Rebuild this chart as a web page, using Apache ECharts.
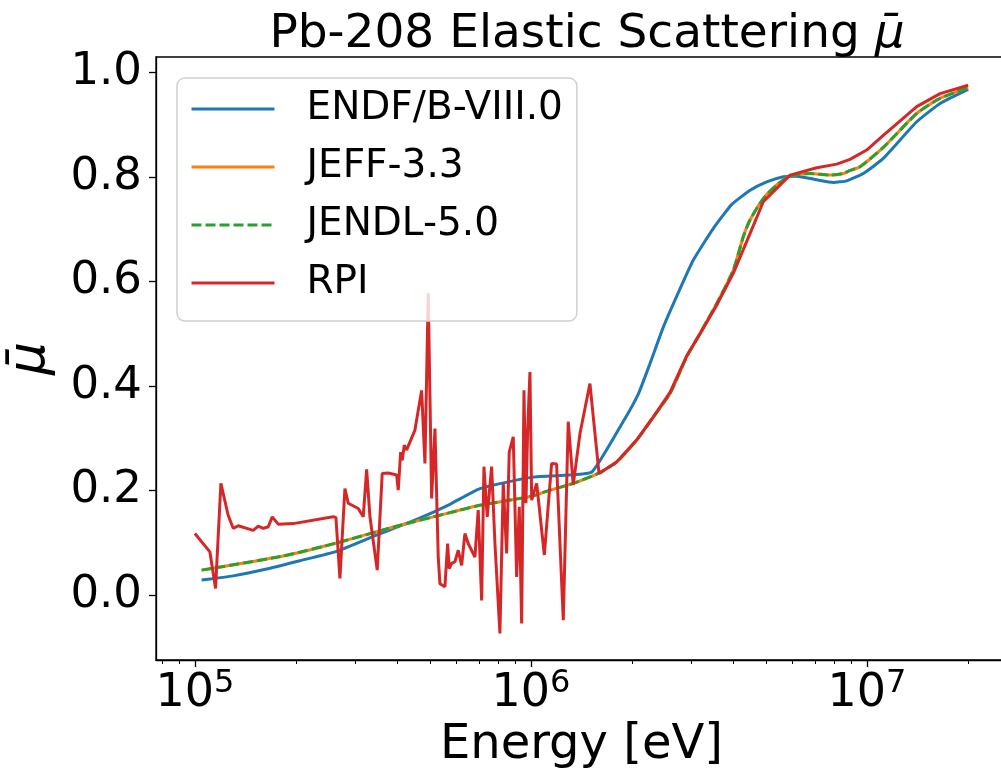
<!DOCTYPE html>
<html>
<head>
<meta charset="utf-8">
<script src="https://cdn.jsdelivr.net/npm/echarts@6/dist/echarts.min.js"></script>
<style>
  html, body { margin: 0; padding: 0; background: #fff; }
  #chart { width: 1001px; height: 770px; }
</style>
</head>
<body>
<div id="chart"></div>
<script>
// ENDF/B-VIII.0
const endfE = [1.047e5, 1.30e5, 1.634e5, 2.053e5, 2.64e5, 3.47e5, 4.57e5, 5.74e5, 7.05e5, 1.01e6, 1.30e6, 1.52e6,
  1.88e6, 2.09e6, 2.26e6, 2.48e6, 2.71e6, 3.04e6, 3.49e6, 3.96e6, 4.49e6, 5.03e6, 5.64e6, 6.18e6, 7.09e6, 7.94e6,
  8.70e6, 9.75e6, 1.118e7, 1.406e7, 1.65e7, 2.0e7];
const endfMu = [0.029, 0.037, 0.050, 0.066, 0.084, 0.115, 0.145, 0.174, 0.204, 0.226, 0.230, 0.236,
  0.332, 0.386, 0.443, 0.514, 0.571, 0.641, 0.702, 0.748, 0.775, 0.791, 0.801, 0.802, 0.795, 0.790,
  0.793, 0.807, 0.836, 0.906, 0.941, 0.968];

// JEFF-3.3 and JENDL-5.0 lie on top of each other
const jeffE = [1.047e5, 1.83e5, 2.64e5, 3.98e5, 5.74e5, 7.05e5, 1.014e6, 1.139e6, 1.336e6, 1.586e6, 1.799e6,
  2.063e6, 2.312e6, 2.593e6, 2.907e6, 3.184e6, 3.57e6, 4.0e6, 4.284e6, 4.486e6, 4.914e6, 5.386e6, 5.901e6,
  6.767e6, 7.762e6, 8.503e6, 8.9e6, 9.533e6, 1.118e7, 1.406e7, 1.65e7, 2.0e7];
const jeffMu = [0.048, 0.075, 0.100, 0.132, 0.158, 0.172, 0.190, 0.201, 0.214, 0.233, 0.255,
  0.297, 0.341, 0.386, 0.456, 0.501, 0.558, 0.622, 0.686, 0.718, 0.759, 0.785, 0.802,
  0.807, 0.804, 0.807, 0.813, 0.820, 0.857, 0.922, 0.951, 0.971];
const jendlE = jeffE;
const jendlMu = jeffMu;

// RPI
const rpiE = [1.0e5, 1.108e5, 1.152e5, 1.195e5, 1.256e5, 1.30e5, 1.346e5, 1.491e5, 1.543e5, 1.597e5, 1.653e5,
  1.699e5, 1.77e5, 1.962e5, 2.58e5, 2.628e5, 2.701e5, 2.795e5, 2.86e5, 3.062e5, 3.169e5, 3.244e5, 3.318e5,
  3.488e5, 3.609e5, 3.761e5, 3.984e5, 4.028e5, 4.095e5, 4.14e5, 4.197e5, 4.267e5, 4.516e5, 4.728e5, 4.836e5,
  4.947e5, 5.064e5, 5.18e5, 5.298e5, 5.36e5, 5.546e5, 5.65e5, 5.712e5, 5.807e5, 5.94e5, 6.075e5, 6.219e5,
  6.361e5, 6.506e5, 6.812e5, 6.968e5, 7.133e5, 7.246e5, 7.411e5, 7.638e5, 7.814e5, 8.085e5, 8.271e5, 8.466e5,
  8.618e5, 8.858e5, 9.067e5, 9.231e5, 9.383e5, 9.533e5, 9.663e5, 9.777e5, 9.932e5, 1.005e6, 1.04e6, 1.096e6,
  1.152e6, 1.192e6, 1.248e6, 1.291e6, 1.336e6, 1.399e6, 1.498e6, 1.594e6, 1.799e6, 2.063e6, 2.312e6, 2.593e6,
  2.907e6, 3.184e6, 3.57e6, 4.0e6, 4.486e6, 4.914e6, 5.901e6, 7.09e6, 8.13e6, 8.9e6, 9.98e6, 1.118e7, 1.406e7,
  1.65e7, 2.0e7];
const rpiMu = [0.118, 0.083, 0.013, 0.214, 0.153, 0.128, 0.133, 0.124, 0.132, 0.128, 0.131,
  0.150, 0.136, 0.137, 0.150, 0.149, 0.032, 0.204, 0.176, 0.166, 0.150, 0.241, 0.150,
  0.048, 0.233, 0.234, 0.230, 0.201, 0.274, 0.258, 0.287, 0.278, 0.316, 0.392, 0.252,
  0.578, 0.185, 0.319, 0.073, 0.022, 0.016, 0.099, 0.051, 0.061, 0.064, 0.086, 0.057,
  0.118, 0.099, 0.073, 0.163, -0.010, 0.246, 0.150, 0.246, 0.099, -0.073, 0.214, 0.080,
  0.274, 0.303, 0.035, 0.169, -0.054, 0.392, 0.176, 0.316, 0.427, 0.182, 0.214, 0.077,
  0.252, 0.251, -0.048, 0.332, 0.211, 0.309, 0.405, 0.233, 0.255, 0.297, 0.341, 0.388,
  0.458, 0.500, 0.555, 0.616, 0.692, 0.753, 0.804, 0.818, 0.825, 0.834, 0.852, 0.880, 0.935,
  0.960, 0.976];

const xMajorTicks = [1e5, 1e6, 1e7];
const xMinorTicks = [8e4, 9e4, 2e5, 3e5, 4e5, 5e5, 6e5, 7e5, 8e5, 9e5,
  2e6, 3e6, 4e6, 5e6, 6e6, 7e6, 8e6, 9e6, 2e7];
const yTicks = [0, 0.2, 0.4, 0.6, 0.8, 1.0];

const FONT = 'DejaVu Sans';

function pairs(xs, ys) {
  return xs.map((x, i) => [x, ys[i]]);
}

const chart = echarts.init(document.getElementById('chart'));

const gridBox = { left: 156, right: -6, top: 57, bottom: 110, outerBoundsMode: 'none' };
const xMin = 76600, xMax = 26100000;

chart.setOption({
  animation: false,
  backgroundColor: '#fff',
  textStyle: { fontFamily: FONT },
  title: {
    text: '{t|Pb-208 Elastic Scattering }{m|μ\u0304}',
    left: 582,
    textAlign: 'center',
    top: 6,
    textStyle: {
      fontWeight: 'normal',
      rich: {
        t: { fontFamily: FONT, fontSize: 47, fontWeight: 'normal', color: '#000' },
        m: { fontFamily: FONT, fontSize: 47, fontWeight: 'normal', color: '#000', fontStyle: 'italic' }
      }
    }
  },
  legend: {
    orient: 'vertical',
    left: 177,
    top: 78,
    padding: [8, 14, 15, 13],
    itemWidth: 83,
    itemHeight: 14,
    itemGap: 12,
    selectedMode: false,
    backgroundColor: 'rgba(255,255,255,0.8)',
    borderColor: '#d0d0d0',
    borderWidth: 1.5,
    borderRadius: 8,
    itemStyle: { opacity: 0 },
    lineStyle: { width: 3 },
    textStyle: { fontFamily: FONT, fontSize: 39, lineHeight: 46, color: '#000', padding: [0, 0, 0, 27] },
    data: ['ENDF/B-VIII.0', 'JEFF-3.3', 'JENDL-5.0', 'RPI']
  },
  grid: [
    Object.assign({ show: true, borderColor: '#000', borderWidth: 1.3 }, gridBox),
    Object.assign({ show: false }, gridBox)
  ],
  xAxis: [
    {
      type: 'log',
      logBase: 10,
      gridIndex: 0,
      min: xMin,
      max: xMax,
      name: 'Energy [eV]',
      nameLocation: 'middle',
      nameGap: 61,
      nameTextStyle: { fontFamily: FONT, fontSize: 48, color: '#000' },
      axisLine: { show: true, onZero: false, lineStyle: { color: '#000', width: 1.3 } },
      axisTick: { show: true, customValues: xMajorTicks, length: 7, lineStyle: { color: '#000', width: 1.3 } },
      axisLabel: {
        customValues: xMajorTicks,
        margin: 8,
        formatter: v => '{b|10}{s|' + Math.round(Math.log10(v)) + '}',
        rich: {
          b: { fontFamily: FONT, fontSize: 46, color: '#000' },
          s: { fontFamily: FONT, fontSize: 32, color: '#000', padding: [0, 0, 20, 0] }
        }
      },
      splitLine: { show: false }
    },
    {
      type: 'log',
      logBase: 10,
      gridIndex: 1,
      min: xMin,
      max: xMax,
      axisLine: { show: false, onZero: false },
      axisTick: { show: true, customValues: xMinorTicks, length: 4, lineStyle: { color: '#000', width: 1 } },
      axisLabel: { show: false },
      splitLine: { show: false }
    }
  ],
  yAxis: [
    {
      type: 'value',
      gridIndex: 0,
      min: -0.124,
      max: 1.03,
      name: '{m|μ\u0304}',
      nameLocation: 'middle',
      nameRotate: 90,
      nameGap: 100,
      nameTextStyle: { rich: { m: { fontFamily: FONT, fontSize: 52, color: '#000', fontStyle: 'italic' } } },
      axisLine: { show: true, onZero: false, lineStyle: { color: '#000', width: 1.3 } },
      axisTick: { show: true, customValues: yTicks, length: 7, lineStyle: { color: '#000', width: 1.3 } },
      axisLabel: {
        customValues: yTicks,
        margin: 14,
        fontFamily: FONT,
        fontSize: 45,
        color: '#000',
        formatter: v => v.toFixed(1)
      },
      splitLine: { show: false }
    },
    {
      type: 'value',
      gridIndex: 1,
      min: -0.124,
      max: 1.03,
      show: false
    }
  ],
  series: [
    {
      name: 'ENDF/B-VIII.0',
      type: 'line',
      xAxisIndex: 0,
      yAxisIndex: 0,
      symbol: 'none',
      smooth: 0.15,
      color: '#1f77b4',
      lineStyle: { width: 3, color: '#1f77b4' },
      data: pairs(endfE, endfMu)
    },
    {
      name: 'JEFF-3.3',
      type: 'line',
      xAxisIndex: 0,
      yAxisIndex: 0,
      symbol: 'none',
      smooth: 0.2,
      color: '#ff7f0e',
      lineStyle: { width: 3, color: '#ff7f0e' },
      data: pairs(jeffE, jeffMu)
    },
    {
      name: 'JENDL-5.0',
      type: 'line',
      xAxisIndex: 0,
      yAxisIndex: 0,
      symbol: 'none',
      smooth: 0.2,
      color: '#2ca02c',
      lineStyle: { width: 3, color: '#2ca02c', type: [10, 4] },
      data: pairs(jendlE, jendlMu)
    },
    {
      name: 'RPI',
      type: 'line',
      xAxisIndex: 0,
      yAxisIndex: 0,
      symbol: 'none',
      color: '#d62728',
      lineStyle: { width: 3, color: '#d62728' },
      data: pairs(rpiE, rpiMu)
    }
  ]
});
</script>
</body>
</html>
